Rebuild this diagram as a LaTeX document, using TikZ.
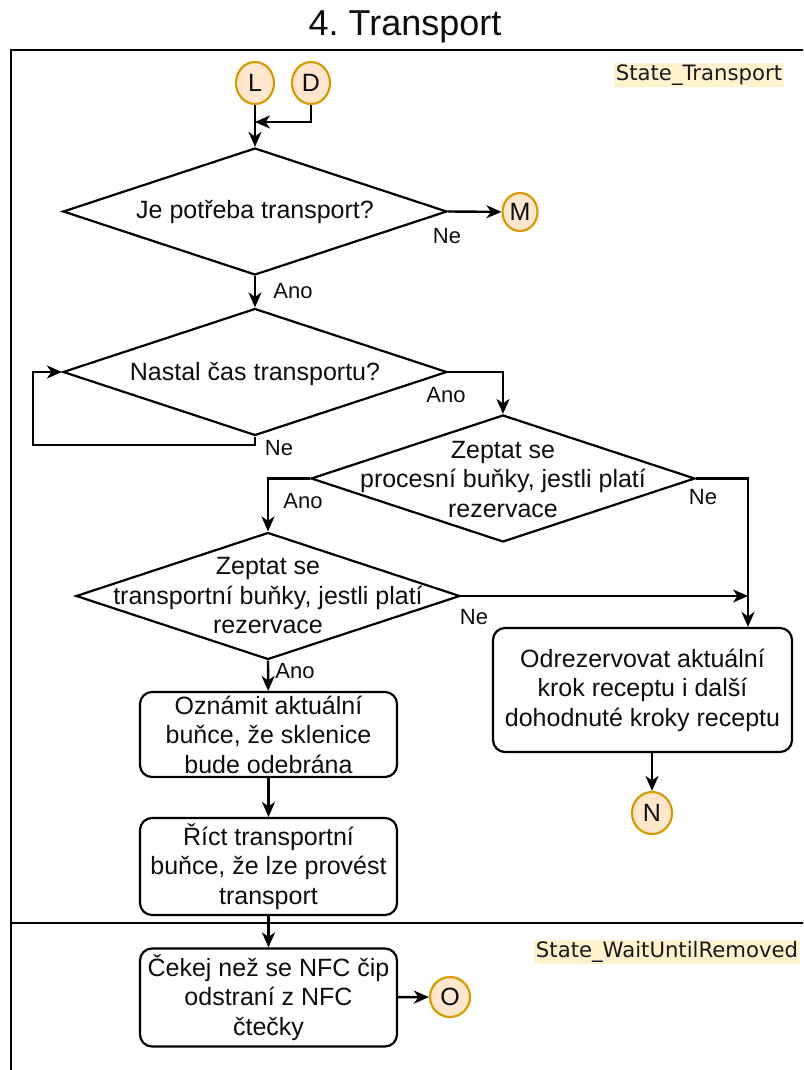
\documentclass[tikz,border=0pt]{standalone}
\usepackage{fontspec}
\setmainfont{Liberation Sans}
\newfontfamily\statefont{DejaVu Sans}
\usetikzlibrary{shapes.geometric,arrows.meta}
\definecolor{connfill}{HTML}{FFE6CC}
\definecolor{connline}{HTML}{D79B00}
\definecolor{tagfill}{HTML}{FFF2CC}
\frenchspacing
\begin{document}
\begin{tikzpicture}[x=1pt,y=-1pt,
  every node/.style={font=\fontsize{25}{29.5}\selectfont, text=black!95},
  decision/.style={shape=diamond, draw, line width=2.2pt, inner sep=0pt, minimum width=384, minimum height=127},
  stepbox/.style={draw, line width=2.2pt, rounded corners=12pt, minimum width=257, align=center, inner sep=0pt},
  connector/.style={shape=ellipse, draw=connline, fill=connfill, line width=2.2pt, inner sep=0pt, minimum width=#1},
  connector/.default=38,
  arr/.style={line width=2.4pt, -{Stealth[length=15pt, width=13pt, inset=4.5pt]}},
  lbl/.style={font=\fontsize{22}{26}\selectfont, inner sep=0pt},
  tag/.style={fill=tagfill, font=\statefont\fontsize{21.2}{24}\selectfont, inner sep=1.5pt, text=black!90},
  frame/.style={line width=2.4pt}
]
\useasboundingbox (0,0) rectangle (803,1070);
\clip (0,0) rectangle (803,1070);

% title and swimlane frame
\node[font=\fontsize{36}{40}\selectfont] (title) at (405,27) {4. Transport};
\draw[frame] (11,50) rectangle (840,1100);
\draw[frame] (11,923) -- (840,923);
\node[tag] (tagA) at (699,75) {State\_Transport};
\node[tag] (tagB) at (667,952) {State\_WaitUntilRemoved};

% entry connectors
\node[connector, minimum height=42] (L) at (255,83) {L};
\node[connector, minimum height=42] (D) at (311,83) {D};
\coordinate (jD) at (255,122);

% decisions
\node[decision] (d1) at (255,211.5) {};
\node at (d1) {Je potřeba transport?};
\node[decision] (d2) at (255,372) {};
\node at ([yshift=-2]d2.center) {Nastal čas transportu?};
\node[decision] (d3) at (503,478.5) {};
\node[align=center] at ([yshift=-1]d3.center) {Zeptat se\\procesní buňky, jestli platí\\rezervace};
\node[decision] (d4) at (268,596) {};
\node[align=center] at (d4.center) {Zeptat se\\transportní buňky, jestli platí\\rezervace};

% exits
\node[connector=35, minimum height=38] (M) at (520,212) {M};
\node[connector=40, minimum height=42] (N) at (652,813) {N};
\node[connector=40, minimum height=40] (O) at (450,997) {O};

% actions
\node[stepbox, minimum height=85] (b1) at (268.5,734.5) {Oznámit aktuální\\buňce, že sklenice\\bude odebrána};
\node[stepbox, minimum height=97] (b2) at (268.5,866.5) {Říct transportní\\buňce, že lze provést\\transport};
\node[stepbox, minimum height=98] (b3) at (268.5,997.5) {Čekej než se NFC čip\\odstraní z NFC\\čtečky};
\node[stepbox, minimum width=299, minimum height=124] (od) at (642.5,690) {Odrezervovat aktuální\\krok receptu i další\\dohodnuté kroky receptu};

\coordinate (loop) at (33,445);
\coordinate (jN) at (748,596);

% flow
\draw[arr] (L) -- (d1.north);
\draw[arr] (D) |- (jD);
\draw[arr] (d1.east) -- (M);
\draw[arr] (d1.south) -- (d2.north);
\draw[arr] (d2.south) |- (loop) |- (d2.west);
\draw[arr] (d2.east) -| (d3.north);
\draw[arr] (d3.west) -| (d4.north);
\draw[arr] (d3.east) -| (od.north -| jN);
\draw[arr] (d4.east) -- (jN);
\draw[arr] (d4.south) -- (b1);
\draw[arr] (b1) -- (b2);
\draw[arr] (b2) -- (b3);
\draw[arr] (b3) -- (O);
\draw[arr] (od.south -| N) -- (N);

% branch labels
\node[lbl] (n1) at (447,236) {Ne};
\node[lbl] (a1) at (293,291) {Ano};
\node[lbl] (a2) at (446,395) {Ano};
\node[lbl] (n2) at (279,448) {Ne};
\node[lbl] (a3) at (303,501) {Ano};
\node[lbl] (n3) at (703,497) {Ne};
\node[lbl] (n4) at (474,617) {Ne};
\node[lbl] (a4) at (295,671) {Ano};
\end{tikzpicture}
\end{document}
